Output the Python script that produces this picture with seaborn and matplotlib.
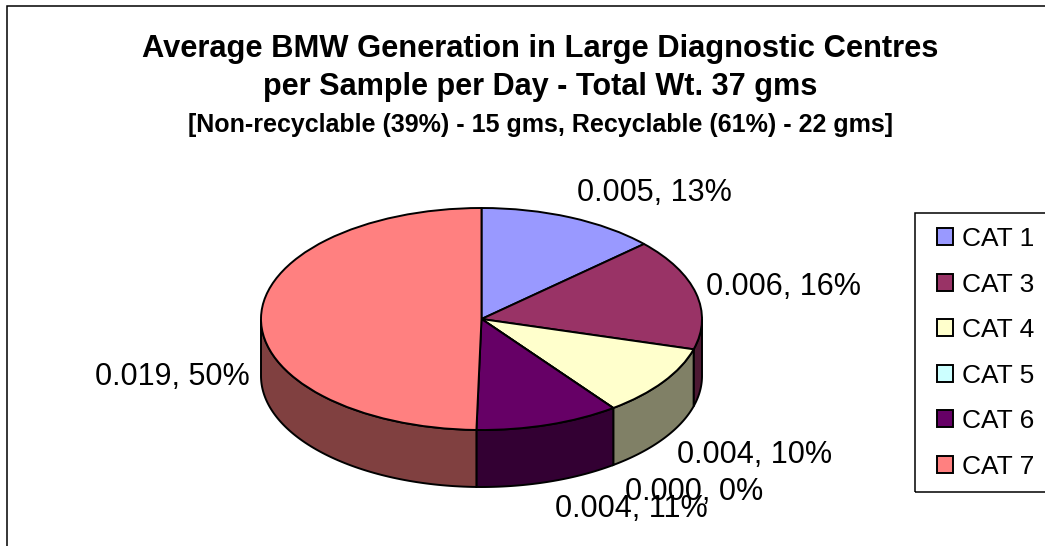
import numpy as np
import matplotlib
matplotlib.use("Agg")
import matplotlib.pyplot as plt
from matplotlib.patches import Patch, Rectangle
import seaborn as sns

# Data
categories = ["CAT 1", "CAT 3", "CAT 4", "CAT 5", "CAT 6", "CAT 7"]
values = [0.00502, 0.00617, 0.00396, 0.0, 0.00402, 0.01889]
top_colors = ["#9999FF", "#993366", "#FFFFCC", "#CCFFFF", "#660066", "#FF8080"]
side_colors = ["#4D4D80", "#4D1933", "#808066", "#668080", "#330033", "#804040"]

sns.set_theme(style="white")
plt.rcParams["font.family"] = ["Liberation Sans", "DejaVu Sans"]

W, H = 1045, 546
fig = plt.figure(figsize=(W / 100, H / 100), dpi=100, facecolor="white")


def fx(px):
    return px / W


def fy(py):
    return 1 - py / H


# Pie axes sits on the top ellipse of the disc
cx, cy, rx, ry, depth_px = 481.5, 319, 220.5, 111, 57
ax = fig.add_axes([fx(cx - rx), fy(cy + ry), 2 * rx / W, 2 * ry / H])
depth = depth_px / ry
edge_lw = 1.4

palette = sns.color_palette(top_colors)
ax.pie(values, colors=palette, startangle=90, counterclock=False, radius=1,
       wedgeprops={"edgecolor": "black", "linewidth": edge_lw, "zorder": 3})
ax.set_aspect("auto")
ax.set_xlim(-1, 1)
ax.set_ylim(-1, 1)

# Side wall of the disc, only the front half shows
shares = np.array(values) / sum(values)
ends = 90 - 360 * np.cumsum(shares)
starts = np.r_[90, ends[:-1]]
for start, end, col in zip(starts, ends, side_colors):
    for lo, hi in [(end, start), (end + 360, start + 360)]:
        lo2, hi2 = max(lo, 180), min(hi, 360)
        if hi2 <= lo2:
            continue
        t = np.radians(np.linspace(lo2, hi2, 80))
        xs = np.r_[np.cos(t), np.cos(t[::-1])]
        ys = np.r_[np.sin(t), np.sin(t[::-1]) - depth]
        ax.fill(xs, ys, facecolor=col, edgecolor="black", linewidth=edge_lw,
                zorder=1, clip_on=False)

for w in ax.patches:
    w.set_clip_on(False)

# Chart frame, runs off the right and bottom of the picture
fig.add_artist(Rectangle((fx(7), fy(H + 20)), (W + 20) / W, (H + 14) / H,
                         transform=fig.transFigure, fill=False,
                         edgecolor="black", linewidth=1.1))

# Title lines
fig.text(fx(540.5), fy(57), "Average BMW Generation in Large Diagnostic Centres",
         ha="center", va="baseline", fontsize=22.2, fontweight="bold", color="black")
fig.text(fx(540.5), fy(95), "per Sample per Day - Total Wt. 37 gms",
         ha="center", va="baseline", fontsize=22.1, fontweight="bold", color="black")
fig.text(fx(540.5), fy(132), "[Non-recyclable (39%) - 15 gms, Recyclable (61%) - 22 gms]",
         ha="center", va="baseline", fontsize=18, fontweight="bold", color="black")

# Data labels, placed by hand like the original
label_pos = [(654, 201), (783.5, 295), (755, 463), (694, 500), (631, 517), (172, 385)]
for v, s, (lx, ly) in zip(values, shares, label_pos):
    fig.text(fx(lx), fy(ly), f"{v:.3f}, {s:.0%}", ha="center", va="baseline",
             fontsize=22, color="black", zorder=10)

# Legend, frame drawn apart so the handles can keep their inset
fig.add_artist(Rectangle((fx(915), fy(492)), 150 / W, 279 / H,
                         transform=fig.transFigure, fill=False,
                         edgecolor="black", linewidth=1.1))
handles = [Patch(facecolor=c, edgecolor="black", linewidth=1.4) for c in palette]
fig.legend(handles, categories, loc="upper left",
           bbox_to_anchor=(fx(937), fy(227)), bbox_transform=fig.transFigure,
           borderaxespad=0, borderpad=0, fontsize=19, frameon=False,
           labelcolor="black", handlelength=0.6, handleheight=0.6,
           handletextpad=0.36, labelspacing=0.815)

fig.savefig("out.png", dpi=100)
plt.close(fig)
